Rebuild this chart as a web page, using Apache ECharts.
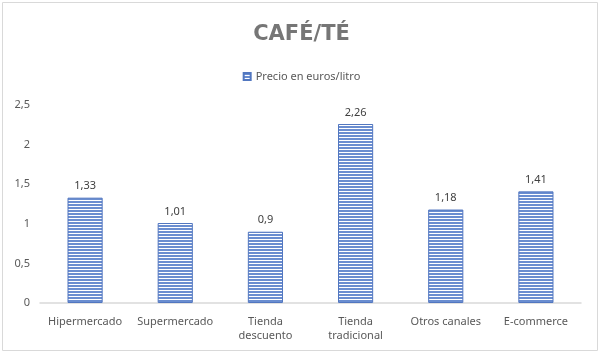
<!DOCTYPE html>
<html><head><meta charset="utf-8">
<script src="https://cdn.jsdelivr.net/npm/echarts@6/dist/echarts.min.js"></script>
<style>html,body{margin:0;padding:0;background:#fff}#c{width:603px;height:356px}</style>
</head><body><div id="c"></div>
<script>
const categories = ['Hipermercado','Supermercado','Tienda\ndescuento','Tienda\ntradicional','Otros canales','E-commerce'];
const values = [1.33, 1.01, 0.9, 2.26, 1.18, 1.41];
const seriesName = 'Precio en euros/litro';
const yTicks = [0, 0.5, 1, 1.5, 2, 2.5];

const pc = document.createElement('canvas');
pc.width = 4; pc.height = 3;
const px = pc.getContext('2d');
px.fillStyle = '#ffffff'; px.fillRect(0,0,4,3);
px.fillStyle = '#6a8dd0'; px.fillRect(0,0,4,2);

const chart = echarts.init(document.getElementById('c'), null, {renderer:'canvas'});
const font = '"Noto Sans", "Open Sans", sans-serif';
chart.setOption({
  animation:false,
  textStyle:{fontFamily:font},
  graphic:[{type:'rect',shape:{x:2.5,y:2.5,width:595,height:348},style:{fill:'none',stroke:'#d9d9d9',lineWidth:1},silent:true}],
  title:{text:'CAFÉ/TÉ',left:'center',top:19,textStyle:{fontFamily:'"DejaVu Sans", sans-serif',fontSize:21,fontWeight:'bold',color:'#767676'}},
  legend:{top:66,left:'center',itemWidth:7,itemHeight:7,itemGap:4,textStyle:{fontSize:11,color:'#595959'},data:[{name:seriesName,icon:'rect'}]},
  grid:{left:40,right:22,top:105,bottom:53,containLabel:false},
  xAxis:{type:'category',data:categories,axisTick:{show:false},
    axisLine:{lineStyle:{color:'#d9d9d9',width:1.5}},
    axisLabel:{fontSize:11,color:'#595959',margin:12,lineHeight:14,interval:0}},
  yAxis:{type:'value',min:0,max:2.5,interval:0.5,
    axisLine:{show:false},axisTick:{show:false},splitLine:{show:false},
    axisLabel:{fontSize:11,color:'#595959',margin:10,formatter:v=>String(v).replace('.',',')}},
  series:[{name:seriesName,type:'bar',data:values,barWidth:'39%',
    itemStyle:{color:{image:pc,repeat:'repeat'},borderColor:'#5277c0',borderWidth:1},
    label:{show:true,position:'top',distance:6,fontSize:11,color:'#404040',formatter:p=>String(p.value).replace('.',',')}}]
});
</script></body></html>
